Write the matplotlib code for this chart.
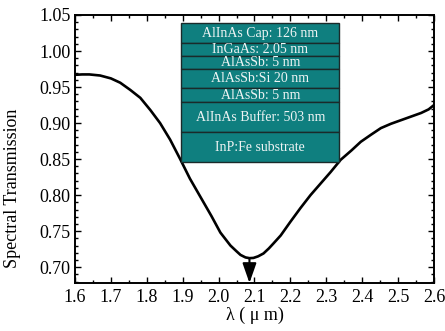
import matplotlib
matplotlib.use("Agg")
import matplotlib.pyplot as plt
from matplotlib.patches import Rectangle
from matplotlib.ticker import MultipleLocator

# Data
wavelength = [1.600, 1.620, 1.640, 1.670, 1.700, 1.726, 1.754, 1.782, 1.810, 1.837,
              1.865, 1.893, 1.920, 1.950, 1.980, 2.005, 2.033, 2.050, 2.061, 2.075,
              2.086, 2.097, 2.110, 2.125, 2.140, 2.153, 2.173, 2.200, 2.228, 2.256,
              2.284, 2.312, 2.340, 2.370, 2.396, 2.425, 2.452, 2.480, 2.508, 2.536,
              2.564, 2.585, 2.600]
transmission = [0.967, 0.9675, 0.9675, 0.966, 0.962, 0.956, 0.946, 0.935, 0.918, 0.900,
                0.877, 0.850, 0.823, 0.797, 0.771, 0.748, 0.730, 0.722, 0.717, 0.7135,
                0.7125, 0.7128, 0.715, 0.719, 0.726, 0.733, 0.744, 0.763, 0.782, 0.800,
                0.816, 0.832, 0.849, 0.862, 0.874, 0.884, 0.893, 0.899, 0.904, 0.909,
                0.914, 0.919, 0.925]

min_wavelength = 2.086
min_value = 0.7125

layer_names = ["AlInAs Cap: 126 nm", "InGaAs: 2.05 nm", "AlAsSb: 5 nm",
               "AlAsSb:Si 20 nm", "AlAsSb: 5 nm", "AlInAs Buffer: 503 nm",
               "InP:Fe substrate"]
layer_bounds = [1.0385, 1.0107, 0.9935, 0.975, 0.9482, 0.9287, 0.8871, 0.8463]
box_x = (1.896, 2.336)

xticks = [1.6, 1.7, 1.8, 1.9, 2.0, 2.1, 2.2, 2.3, 2.4, 2.5, 2.6]
yticks = [0.70, 0.75, 0.80, 0.85, 0.90, 0.95, 1.00, 1.05]

plt.rcParams['font.family'] = ['Liberation Serif', 'DejaVu Serif']

fig = plt.figure(figsize=(4.45, 3.31), dpi=100)
ax = fig.add_axes([0.1685, 0.145, 0.9753 - 0.1685, 0.9547 - 0.145])

ax.plot(wavelength, transmission, color='black', lw=1.9, zorder=3,
        solid_joinstyle='round')

ax.set_xlim(1.6, 2.6)
ax.set_ylim(0.678, 1.05)
ax.set_xticks(xticks)
ax.set_yticks(yticks)
ax.set_xticklabels([f"{t:.1f}" for t in xticks])
ax.set_yticklabels([f"{t:.2f}" for t in yticks])
ax.xaxis.set_minor_locator(MultipleLocator(0.05))
ax.yaxis.set_minor_locator(MultipleLocator(0.01))
ax.tick_params(which='both', direction='in', top=True, right=True, width=1.0, labelsize=13)
ax.tick_params(which='major', length=4)
ax.tick_params(which='minor', length=2.5)
ax.tick_params(axis='x', pad=4)
ax.tick_params(axis='y', pad=3)
for s in ax.spines.values():
    s.set_linewidth(1.4)

ax.set_xlabel("λ ( μ m)", fontsize=13, labelpad=1)
ax.set_ylabel("Spectral Transmission", fontsize=13)
ax.yaxis.set_label_coords(-0.15, 0.354)

# Arrow at minimum
ax.annotate("", xy=(min_wavelength, 0.678), xytext=(min_wavelength, min_value),
            arrowprops=dict(arrowstyle="-|>,head_length=1.0,head_width=0.35",
                            color='black', lw=1.5,
                            mutation_scale=12, shrinkA=0, shrinkB=0), zorder=4)

# Layer stack box
teal = '#0f7f7f'
for i, name in enumerate(layer_names):
    top = layer_bounds[i]
    bot = layer_bounds[i + 1]
    ax.add_patch(Rectangle((box_x[0], bot), box_x[1] - box_x[0], top - bot,
                           facecolor=teal, edgecolor='#1a2a2a', lw=1.0, zorder=5))
    ax.text((box_x[0] + box_x[1]) / 2, (top + bot) / 2, name, color='#eef4f4',
            ha='center', va='center', fontsize=10, zorder=6)

fig.savefig("out.png", dpi=100)
